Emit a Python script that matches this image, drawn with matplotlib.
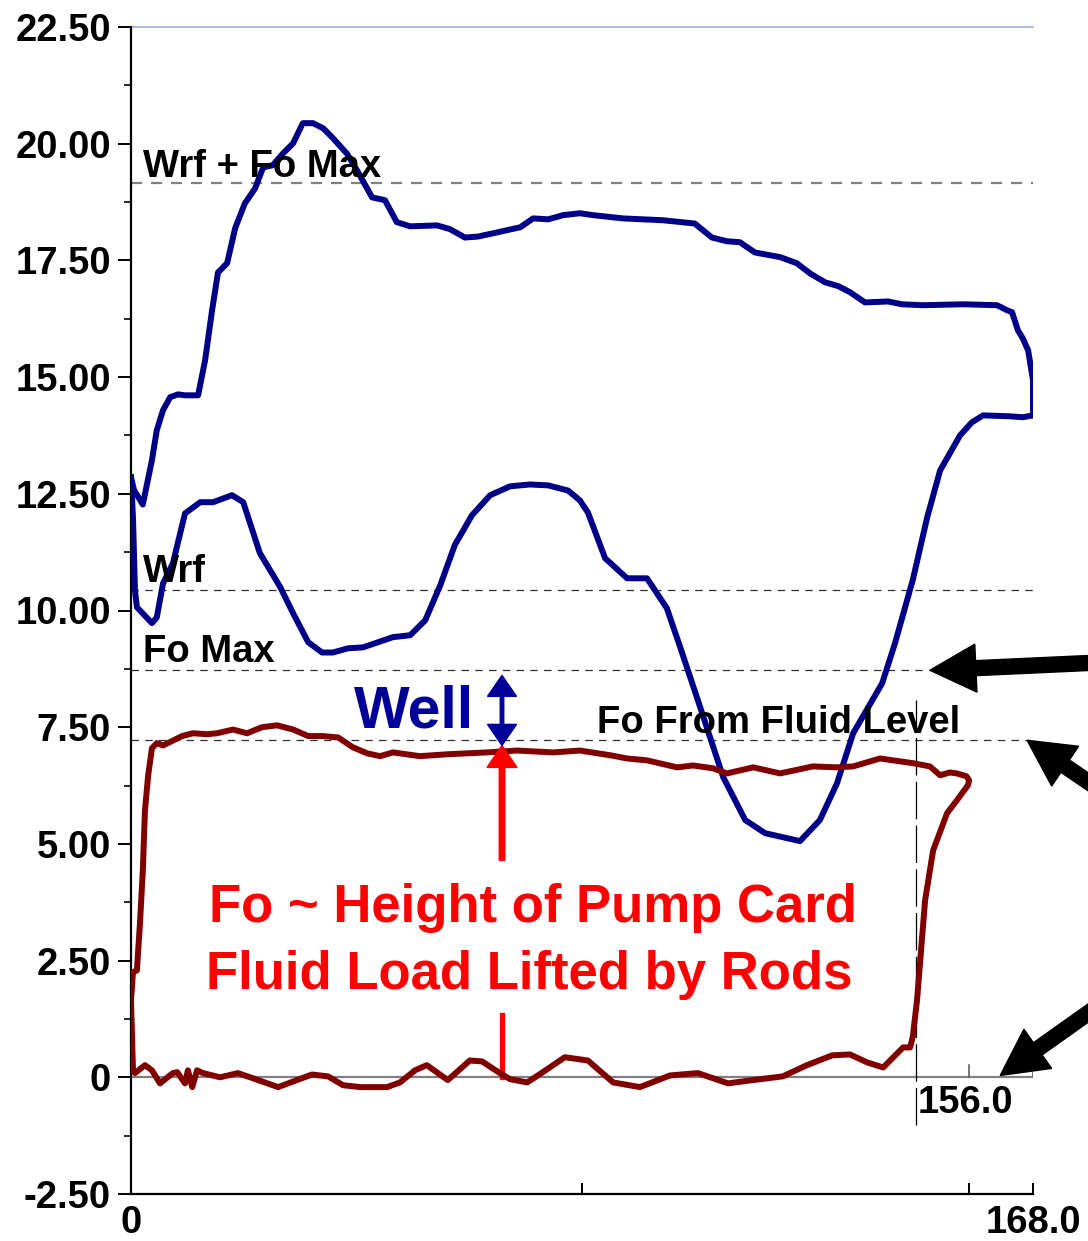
import matplotlib
matplotlib.use("Agg")
import matplotlib.pyplot as plt
from matplotlib.patches import FancyArrow
from matplotlib.transforms import IdentityTransform

plt.rcParams['font.family'] = ['Liberation Sans', 'DejaVu Sans']
plt.rcParams['font.weight'] = 'bold'

# ---------------- data ----------------
# Surface card (blue loop)
surface_x = [0, 0.56, 2.2, 3.2, 3.9, 4.8, 5.96, 7.3, 8.75, 10.06, 12.5, 13.8, 15.1, 16.2, 17.9,
             19.4, 21.2, 23.1, 24.6, 26.4, 28.3, 30.2, 32.0, 33.9, 35.8, 37.6, 40.2, 42.1, 44.9,
             47.3, 49.5, 52.0, 57.0, 59.4, 62.2, 64.6, 67.4, 72.5, 74.9, 77.7, 80.5, 83.6, 86.0,
             91.6, 99.1, 105.0, 108.2, 111.0, 113.4, 116.2, 120.9, 124.0, 126.5, 129.3, 131.7,
             133.9, 136.7, 141.0, 143.6, 147.5, 155.0, 161.3, 163.2, 164.1, 165.2, 166.1, 167.1,
             168.0, 168.0, 166.1, 163.7, 158.7, 156.6, 154.4, 150.7, 148.3, 145.6, 142.3, 139.9,
             134.5, 131.5, 128.3, 124.6, 118.1, 114.4, 110.3, 105.4, 102.3, 99.8, 96.1, 92.4,
             88.3, 85.1, 83.6, 81.4, 77.7, 74.3, 70.6, 66.9, 63.5, 60.3, 57.6, 54.8, 52.0, 48.8,
             43.2, 40.4, 37.6, 35.6, 33.0, 30.2, 27.8, 24.0, 20.9, 18.8, 15.3, 12.9, 10.06, 7.8,
             5.96, 4.8, 3.9, 1.1, 0.74, 0.37, 0]
surface_y = [12.85, 12.58, 12.27, 12.83, 13.22, 13.86, 14.29, 14.57, 14.63, 14.61, 14.61, 15.36,
             16.43, 17.24, 17.44, 18.19, 18.72, 19.04, 19.49, 19.54, 19.79, 20.01, 20.44, 20.44,
             20.33, 20.12, 19.79, 19.43, 18.85, 18.79, 18.32, 18.23, 18.25, 18.17, 17.99, 18.01,
             18.08, 18.21, 18.40, 18.38, 18.47, 18.51, 18.47, 18.40, 18.36, 18.29, 17.99, 17.91,
             17.89, 17.67, 17.57, 17.44, 17.22, 17.03, 16.95, 16.82, 16.60, 16.62, 16.56, 16.54,
             16.56, 16.54, 16.43, 16.39, 16.0, 15.83, 15.57, 14.93, 14.18, 14.14, 14.16, 14.18,
             14.03, 13.75, 13.0, 12.0, 10.65, 9.30, 8.44, 7.37, 6.30, 5.51, 5.06, 5.23, 5.51,
             6.43, 8.14, 9.21, 10.05, 10.69, 10.69, 11.12, 12.10, 12.36, 12.57, 12.68, 12.70,
             12.66, 12.47, 12.04, 11.40, 10.54, 9.79, 9.47, 9.43, 9.21, 9.19, 9.10, 9.10, 9.32,
             9.94, 10.50, 11.23, 12.32, 12.47, 12.32, 12.32, 12.08, 11.01, 10.58, 9.85, 9.73,
             10.07, 10.43, 11.99, 12.85]

# Pump card (dark red loop)
pump_x = [0, 0.37, 0.74, 2.6, 3.9, 5.4, 7.8, 8.6, 10.06, 10.6, 11.4, 12.3, 13.4, 16.6, 19.9,
          22.7, 27.4, 33.7, 36.7, 39.5, 42.7, 47.7, 50.1, 52.9, 55.1, 59.0, 63.1, 65.4, 68.7,
          70.6, 73.8, 76.7, 80.8, 85.1, 89.8, 94.8, 100.4, 105.6, 111.2, 115.8, 121.4, 125.9,
          130.6, 133.9, 137.1, 140.1, 143.8, 145.1, 145.6, 146.4, 147.0, 147.9, 149.4, 152.0,
          153.8, 155.9, 156.1, 155.6, 153.8, 152.5, 150.7, 148.8, 145.6, 139.5, 134.5, 131.5,
          127.0, 120.9, 115.9, 111.0, 108.4, 104.7, 101.7, 96.1, 92.4, 89.2, 83.6, 78.6, 71.9,
          66.3, 58.9, 53.8, 48.8, 46.4, 44.0, 41.3, 38.6, 35.8, 33.0, 30.2, 27.2, 24.4, 21.6,
          19.0, 16.0, 14.2, 11.5, 9.5, 6.0, 4.8, 3.9, 3.2, 2.6, 2.2, 1.7, 1.1, 0.37, 0]
pump_y = [1.65, 0.15, 0.09, 0.26, 0.15, -0.13, 0.09, 0.11, -0.13, 0.15, -0.21, 0.15, 0.09, 0.0,
          0.09, -0.02, -0.21, 0.06, 0.02, -0.17, -0.21, -0.21, -0.11, 0.15, 0.26, -0.06, 0.36,
          0.34, 0.09, -0.04, -0.11, 0.11, 0.43, 0.36, -0.11, -0.21, 0.04, 0.09, -0.13, -0.06,
          0.02, 0.26, 0.47, 0.49, 0.32, 0.21, 0.64, 0.64, 0.86, 1.65, 2.51, 3.79, 4.86, 5.66,
          5.93, 6.26, 6.36, 6.45, 6.51, 6.53, 6.47, 6.66, 6.73, 6.83, 6.66, 6.64, 6.66, 6.51,
          6.64, 6.51, 6.62, 6.68, 6.64, 6.79, 6.83, 6.90, 7.0, 6.96, 7.0, 6.96, 6.92, 6.88,
          6.96, 6.88, 6.94, 7.07, 7.28, 7.31, 7.31, 7.45, 7.54, 7.50, 7.37, 7.45, 7.37, 7.35,
          7.37, 7.31, 7.11, 7.16, 7.05, 6.47, 5.72, 4.43, 3.36, 2.29, 2.25, 1.65]

# Reference load levels
wrf_fo_max = 19.15
wrf = 10.43
fo_max = 8.72
fo_fluid_level = 7.22
pump_stroke = 146.2
stroke_max = 168.0

y_ticks = [-2.5, 0, 2.5, 5.0, 7.5, 10.0, 12.5, 15.0, 17.5, 20.0, 22.5]
y_tick_labels = ['-2.50', '0', '2.50', '5.00', '7.50', '10.00', '12.50', '15.00', '17.50', '20.00', '22.50']
x_ticks = [0, 84, 156, 168]
x_tick_labels = ['0', '', '', '168.0']

# ---------------- figure ----------------
W, H = 1088, 1241
fig = plt.figure(figsize=(W / 100, H / 100), dpi=100)
ax = fig.add_axes([131 / W, 47 / H, 902 / W, 1167 / H])
ax.set_xlim(0, 168)
ax.set_ylim(-2.5, 22.5)

for s in ['top', 'right']:
    ax.spines[s].set_visible(False)
for s in ['left', 'bottom']:
    ax.spines[s].set_linewidth(1.6)
    ax.spines[s].set_color('black')

ax.set_yticks(y_ticks)
ax.set_yticklabels(y_tick_labels)
ax.set_yticks([v + 1.25 for v in y_ticks[:-1]], minor=True)
ax.tick_params(axis='y', which='major', direction='out', length=9.5, width=1.4, labelsize=27.5, pad=5)
ax.tick_params(axis='y', which='minor', direction='out', length=5, width=1.2)
ax.set_xticks(x_ticks)
ax.set_xticklabels(x_tick_labels)
ax.tick_params(axis='x', which='major', direction='in', length=8, width=1.4, labelsize=27.5, pad=8)
for lab in ax.get_xticklabels() + ax.get_yticklabels():
    lab.set_fontweight('bold')

# top border line
ax.plot([0, stroke_max], [22.5, 22.5], color='#A8A8E0', lw=1.2, clip_on=False)
# zero line
ax.plot([0, stroke_max], [0, 0], color='#808080', lw=1.6, zorder=1)
ax.plot([156, 156], [0, 0.26], color='#606060', lw=1.2, zorder=1)
ax.plot([stroke_max, stroke_max], [0, 0.26], color='#606060', lw=1.2, zorder=1)

# reference lines
ax.plot([0, stroke_max], [wrf_fo_max, wrf_fo_max], color='#808080', lw=1.6, dashes=(5, 4))
ax.plot([0, stroke_max], [wrf, wrf], color='#303030', lw=0.9, dashes=(6, 5))
ax.plot([0, 148.8], [fo_max, fo_max], color='#303030', lw=0.9, dashes=(6, 5))
ax.plot([0, 167.5], [fo_fluid_level, fo_fluid_level], color='#303030', lw=0.9, dashes=(6, 5))
ax.plot([pump_stroke, pump_stroke], [-1.03, 8.08], color='black', lw=0.9, dashes=(30, 5))

# cards
ax.plot(surface_x, surface_y, color='#000088', lw=4.3, solid_joinstyle='round', zorder=3)
ax.plot(pump_x, pump_y, color='#800000', lw=4.3, solid_joinstyle='round', zorder=3)

# labels
lab_fs = 27.5
ax.text(2.2, 19.28, 'Wrf + Fo Max', fontsize=lab_fs, fontweight='bold', color='black', va='baseline', zorder=4)
ax.text(2.2, 10.6, 'Wrf', fontsize=lab_fs, fontweight='bold', color='black', va='baseline', zorder=4)
ax.text(2.2, 8.89, 'Fo Max', fontsize=lab_fs, fontweight='bold', color='black', va='baseline', zorder=4)
ax.text(86.8, 7.37, 'Fo From Fluid Level', fontsize=lab_fs, fontweight='bold', color='black', va='baseline', zorder=4)
ax.text(146.6, -0.56, '156.0', fontsize=lab_fs, fontweight='bold', color='black', va='center', ha='left')
ax.text(41.5, 7.5, 'Well', fontsize=42.5, fontweight='bold', color='#000099', va='baseline', zorder=4)
ax.text(74.9, 3.62, 'Fo ~ Height of Pump Card', fontsize=38, fontweight='bold', color='#FF0000',
        ha='center', va='center', zorder=4)
ax.text(74.1, 2.19, 'Fluid Load Lifted by Rods', fontsize=38, fontweight='bold', color='#FF0000',
        ha='center', va='center', zorder=4)

# red vertical segment below text
ax.plot([69.1, 69.1], [0, 1.33], color='#FF0000', lw=3.8, zorder=2)

def disp(x, y):
    return ax.transData.transform((x, y))

def arrow_disp(tail, tip, color, width, hw, hl):
    a = FancyArrow(tail[0], tail[1], tip[0] - tail[0], tip[1] - tail[1], width=width,
                   head_width=hw, head_length=hl, length_includes_head=True,
                   color=color, transform=IdentityTransform(), clip_on=False)
    fig.add_artist(a)

# red arrow up
arrow_disp(disp(69.1, 4.65), disp(69.1, 7.11), '#FF0000', 5.5, 30, 22)
# blue double arrow
mid = disp(69.1, 7.86)
arrow_disp(mid, disp(69.1, 8.61), '#000099', 3.5, 29, 21)
arrow_disp(mid, disp(69.1, 7.11), '#000099', 3.5, 29, 21)

# black pointer arrows
tip1 = disp(148.8, fo_max)
arrow_disp((tip1[0] + 175, tip1[1] + 8), tip1, 'black', 15, 48, 46)
tip2 = disp(166.9, fo_fluid_level)
arrow_disp((tip2[0] + 100, tip2[1] - 68), tip2, 'black', 15, 48, 46)
tip3 = disp(161.9, 0.04)
arrow_disp((tip3[0] + 110, tip3[1] + 78), tip3, 'black', 15, 48, 46)

fig.savefig('out.png', dpi=100)
